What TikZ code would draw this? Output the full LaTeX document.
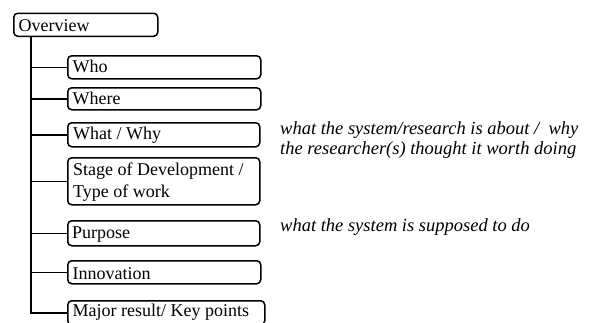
\documentclass[tikz,border=0pt]{standalone}
\usepackage{fontspec}
\setmainfont{Liberation Serif}
\usetikzlibrary{calc}
\begin{document}
\begin{tikzpicture}[x=1pt,y=1pt,
  box/.style={draw, line width=1.5pt, rounded corners=4pt, inner sep=0pt, anchor=north west},
  lbl/.style={inner sep=0pt, anchor=base west, font=\fontsize{18}{21}\selectfont},
  note/.style={inner sep=0pt, anchor=base west, font=\fontsize{18.5}{20}\selectfont\itshape},
  conn/.style={line width=1.5pt}]
\useasboundingbox (0,0) rectangle (589,-322);
% boxes
\node[box, minimum width=144pt, minimum height=23pt] (ov) at (13,-12.5) {};
\node[box, minimum width=193pt, minimum height=23pt] (who) at (67,-55) {};
\node[box, minimum width=193pt, minimum height=22pt] (where) at (67,-87) {};
\node[box, minimum width=192pt, minimum height=24pt] (what) at (67,-122) {};
\node[box, minimum width=192pt, minimum height=47pt] (stage) at (67,-157) {};
\node[box, minimum width=192pt, minimum height=25pt] (purp) at (67,-220) {};
\node[box, minimum width=193pt, minimum height=23pt] (innov) at (67,-260) {};
\node[box, minimum width=197pt, minimum height=24pt] (major) at (67,-300) {};
% labels
\node[lbl] (tov) at (18.5,-31) {Overview};
\node[lbl] (twho) at (72.5,-72.5) {Who};
\node[lbl] (twhere) at (72.5,-104) {Where};
\node[lbl] (twhat) at (73,-139.5) {What / Why};
\node[lbl] (tst1) at (73,-175.5) {Stage of Development /};
\node[lbl] (tst2) at (73,-197.5) {Type of work};
\node[lbl] (tpurp) at (72,-238.5) {Purpose};
\node[lbl] (tinnov) at (72.5,-279) {Innovation};
\node[lbl] (tmajor) at (72.5,-316.7) {Major result/ Key points};
% notes
\node[note] (n1) at (280,-134.5) {what the system/research is about /\ \ why};
\node[note] (n2) at (280,-154.5) {the researcher(s) thought it worth doing};
\node[note] (n3) at (280,-231.5) {what the system is supposed to do};
% connectors
\coordinate (tk) at (31,0);
\draw[conn] (ov.south -| tk) |- (major.west);
\foreach \b in {who,where,what,stage,purp,innov}
  \draw[conn] (tk |- \b.west) -- (\b.west);
\end{tikzpicture}
\end{document}
